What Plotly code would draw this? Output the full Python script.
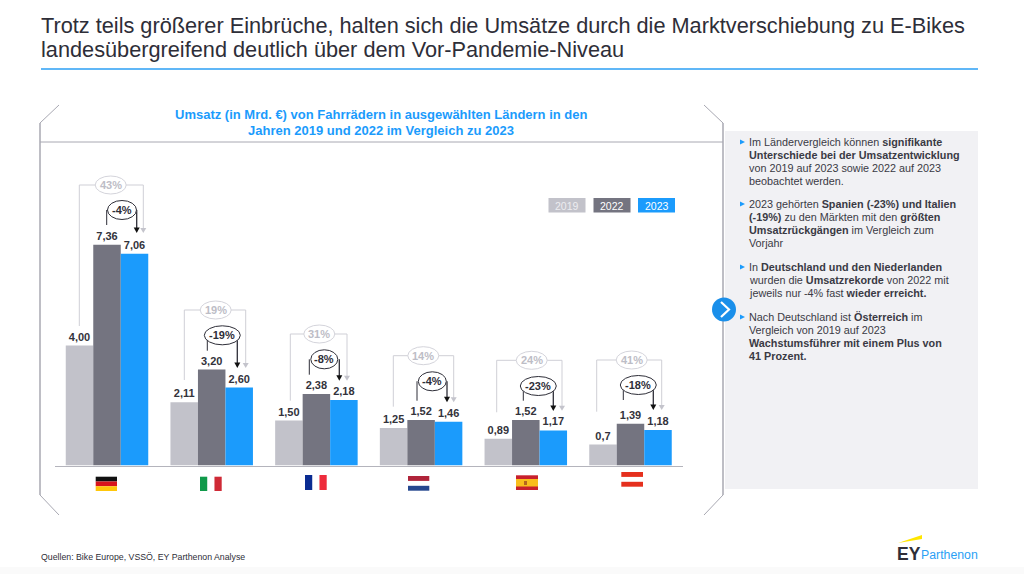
import plotly.graph_objects as go

W, H = 1024, 574

countries = ["Deutschland", "Italien", "Frankreich", "Niederlande", "Spanien", "Österreich"]
umsatz_2019 = [4.00, 2.11, 1.50, 1.25, 0.89, 0.70]
umsatz_2022 = [7.36, 3.20, 2.38, 1.52, 1.52, 1.39]
umsatz_2023 = [7.06, 2.60, 2.18, 1.46, 1.17, 1.18]
labels_2019 = ["4,00", "2,11", "1,50", "1,25", "0,89", "0,7"]
labels_2022 = ["7,36", "3,20", "2,38", "1,52", "1,52", "1,39"]
labels_2023 = ["7,06", "2,60", "2,18", "1,46", "1,17", "1,18"]
change_19_23 = ["43%", "19%", "31%", "14%", "24%", "41%"]
change_22_23 = ["-4%", "-19%", "-8%", "-4%", "-23%", "-18%"]

GREY_L, GREY_D, BLUE = "#C2C2CA", "#747480", "#1B9BFC"
INK = "#33333B"
FONT = "Liberation Sans"

def px(x): return x / W
def py(y): return 1 - y / H

shapes, annotations = [], []

def line(x0, y0, x1, y1, color, width=1):
    shapes.append(dict(type="line", xref="paper", yref="paper", x0=px(x0), y0=py(y0), x1=px(x1), y1=py(y1),
                       line=dict(color=color, width=width)))

def poly(points, fill):
    d = "M " + " L ".join(f"{px(a):.5f},{py(b):.5f}" for a, b in points) + " Z"
    shapes.append(dict(type="path", xref="paper", yref="paper", path=d, fillcolor=fill, line=dict(width=0)))

def rect(x0, y0, x1, y1, fill):
    shapes.append(dict(type="rect", xref="paper", yref="paper", x0=px(x0), y0=py(y0), x1=px(x1), y1=py(y1),
                       fillcolor=fill, line=dict(width=0)))

def ellipse(cx, cy, w, h, color, width=1):
    shapes.append(dict(type="circle", xref="paper", yref="paper", x0=px(cx - w / 2), y0=py(cy - h / 2),
                       x1=px(cx + w / 2), y1=py(cy + h / 2), fillcolor="white", line=dict(color=color, width=width)))

def text(x, y, s, size, color=INK, anchor="left", family=FONT):
    annotations.append(dict(xref="paper", yref="paper", x=px(x), y=py(y), text=s, showarrow=False,
                            xanchor=anchor, yanchor="middle", align=anchor if anchor != "center" else "center",
                            borderpad=0, borderwidth=0, font=dict(family=family, size=size, color=color)))

# Page furniture
rect(0, 567, 1024, 574, "#FAFAFA")
text(40.5, 26, "Trotz teils größerer Einbrüche, halten sich die Umsätze durch die Marktverschiebung zu E-Bikes", 21.72, "#2E2E38")
text(40.5, 50, "landesübergreifend deutlich über dem Vor-Pandemie-Niveau", 21.72, "#2E2E38")
line(41, 69, 978, 69, "#2B9FF5", 1.5)
text(381, 114, "<b>Umsatz (in Mrd. €) von Fahrrädern in ausgewählten Ländern in den</b>", 13, BLUE, "center")
text(381, 130, "<b>Jahren 2019 und 2022 im Vergleich zu 2023</b>", 13, BLUE, "center")
text(41, 557, "Quellen: Bike Europe, VSSÖ, EY Parthenon Analyse", 8.75, "#2E2E38")

# Frame
FRAME = "#A8A8B2"
line(40, 142, 723, 142, FRAME)
line(40, 123, 59, 105, FRAME)
line(40, 123, 40, 495, FRAME, 1.5)
line(40, 495, 59, 515, FRAME)
line(704, 105, 723, 123, FRAME)
line(723, 123, 723, 495, FRAME, 1.5)
line(723, 495, 704, 515, FRAME)

# Side panel
rect(725, 131, 978, 489, "#F1F1F4")
panel_lines = [
    (142, "Im Ländervergleich können <b>signifikante</b>", True),
    (155, "<b>Unterschiede bei der Umsatzentwicklung</b>", False),
    (168, "von 2019 auf 2023 sowie 2022 auf 2023", False),
    (181, "beobachtet werden.", False),
    (204, "2023 gehörten <b>Spanien (-23%) und Italien</b>", True),
    (217, "<b>(-19%)</b> zu den Märkten mit den <b>größten</b>", False),
    (230, "<b>Umsatzrückgängen</b> im Vergleich zum", False),
    (243, "Vorjahr", False),
    (267, "In <b>Deutschland und den Niederlanden</b>", True),
    (280, "wurden die <b>Umsatzrekorde</b> von 2022 mit", False),
    (293, "jeweils nur -4% fast <b>wieder erreicht.</b>", False),
    (317, "Nach Deutschland ist <b>Österreich</b> im", True),
    (330, "Vergleich von 2019 auf 2023", False),
    (343, "<b>Wachstumsführer mit einem Plus von</b>", False),
    (356, "<b>41 Prozent.</b>", False),
]
for y, s, bullet in panel_lines:
    text(749, y, s, 10.8, "#3A3A44")
    if bullet:
        poly([(740, y - 2.5), (745, y), (740, y + 2.5)], BLUE)

# Chevron
ellipse(724, 309.5, 24, 24, BLUE, 0)
shapes[-1]["fillcolor"] = "#1A8FEA"
shapes.append(dict(type="path", xref="paper", yref="paper",
                   path=f"M {px(721):.5f},{py(302):.5f} L {px(729):.5f},{py(309.5):.5f} L {px(721):.5f},{py(317):.5f}",
                   line=dict(color="white", width=2.2)))

# Legend chips
for x0, x1, col, lab, tc in [(548.5, 585.5, GREY_L, "2019", "#EDEDF0"), (593.5, 630.5, GREY_D, "2022", "white"),
                             (638, 675, BLUE, "2023", "white")]:
    rect(x0, 198, x1, 212.5, col)
    text((x0 + x1) / 2, 205.5, lab, 10.5, tc, "center")

# Brackets: left x, left y, top y, right x, tip y, bubble cx, bubble w
grey_brackets = [
    (79.3, 326, 185, 143.3, 233, 110.7, 31),
    (184.3, 380, 310, 245.7, 368, 215.7, 31),
    (290.3, 400.7, 334, 347, 380.7, 319.3, 31),
    (393.3, 406.7, 355.7, 453.7, 402.3, 423.3, 31),
    (496.7, 412.3, 360.3, 562, 410.7, 531.7, 31),
    (596.7, 411.7, 360, 661.7, 410, 631.7, 31),
]
# Dark arcs: left x, left y, top y, right x, tip y, ellipse cx, ellipse w
dark_brackets = [
    (106.7, 225, 210, 136.7, 233, 122, 29),
    (207.3, 350.7, 335.3, 237.3, 368, 222.3, 36),
    (309.3, 374.7, 359.3, 339.3, 380.7, 324.3, 27),
    (417, 400.7, 381.3, 447, 402.3, 432.3, 28),
    (523.3, 400.7, 386, 553.3, 411, 538.3, 36),
    (623.3, 400, 385, 653.3, 410, 638.3, 36),
]
for (lx, ly, ty, rx, tip, cx, w), lab in zip(grey_brackets, change_19_23):
    c = "#CFCFD6"
    line(lx, ly, lx, ty, c)
    line(lx, ty, rx, ty, c)
    line(rx, ty, rx, tip - 4, c)
    poly([(rx - 3, tip - 5), (rx + 3, tip - 5), (rx, tip)], "#C4C4CC")
    ellipse(cx, ty, w, 18, "#D4D4DB")
    text(cx, ty, f"<b>{lab}</b>", 11, "#BDBDC6", "center")
for (lx, ly, ty, rx, tip, cx, w), lab in zip(dark_brackets, change_22_23):
    c = "#2E2E38"
    line(lx, ly, lx, ty, c)
    line(rx, ty, rx, tip - 4, c, 1.3)
    poly([(rx - 3, tip - 5.5), (rx + 3, tip - 5.5), (rx, tip)], "#111111")
    ellipse(cx, ty, w, 19, c)
    text(cx, ty, f"<b>{lab}</b>", 11, "#2E2E38", "center")

# Flags
def stripes_h(x0, y0, x1, y1, cols):
    h = (y1 - y0) / len(cols)
    for i, c in enumerate(cols):
        if c != "white":
            rect(x0, y0 + i * h, x1, y0 + (i + 1) * h, c)

def stripes_v(x0, y0, x1, y1, cols):
    w = (x1 - x0) / len(cols)
    for i, c in enumerate(cols):
        if c != "white":
            rect(x0 + i * w, y0, x0 + (i + 1) * w, y1, c)

stripes_h(95.7, 476.7, 117, 491, ["#111111", "#D8141C", "#FFC70A"])
stripes_v(200, 476.7, 221.7, 491, ["#109A4A", "white", "#CF2A36"])
stripes_v(305, 475, 326.7, 490, ["#0A2C92", "white", "#EE2C3C"])
stripes_h(408, 476, 429.3, 490.7, ["#B0243A", "white", "#25478F"])
rect(516, 475.3, 538, 490, "#C8202C")
rect(516, 479, 538, 486.5, "#F9BE1C")
rect(524, 481, 527, 485, "#B5651D")
stripes_h(621.3, 472, 643, 486.7, ["#E5301E", "white", "#E5301E"])

# Logo
poly([(898, 543), (922, 535), (922, 539)], "#FFE600")
text(896.5, 553.5, "<b>EY</b>", 17.5, "#2E2E38")
text(921, 555, "Parthenon", 12.3, "#2B9FF5")

fig = go.Figure()
for name, vals, labs, col in [("2019", umsatz_2019, labels_2019, GREY_L), ("2022", umsatz_2022, labels_2022, GREY_D),
                              ("2023", umsatz_2023, labels_2023, BLUE)]:
    fig.add_bar(name=name, x=countries, y=vals, text=labs, marker=dict(color=col, line=dict(width=0)),
                textposition="outside", cliponaxis=False,
                textfont=dict(family=FONT, size=11, color=INK, weight="bold"))

fig.update_layout(
    width=W, height=H, margin=dict(l=0, r=0, t=0, b=0), paper_bgcolor="white", plot_bgcolor="rgba(0,0,0,0)",
    barmode="group", bargap=0.212, bargroupgap=0, showlegend=False, shapes=shapes, annotations=annotations,
    font=dict(family=FONT),
    xaxis=dict(domain=[px(54.65), px(682.85)], anchor="y", showgrid=False, showticklabels=False, ticks="",
               showline=True, linecolor="#B4B4BC", linewidth=1, zeroline=False, fixedrange=True),
    yaxis=dict(domain=[py(465.5), py(142)], range=[0, 323.5 / 30], visible=False, fixedrange=True),
)
fig.write_html("out.html", config=dict(displayModeBar=False),
               post_script="document.body.style.margin='0';document.documentElement.style.overflow='hidden';")
